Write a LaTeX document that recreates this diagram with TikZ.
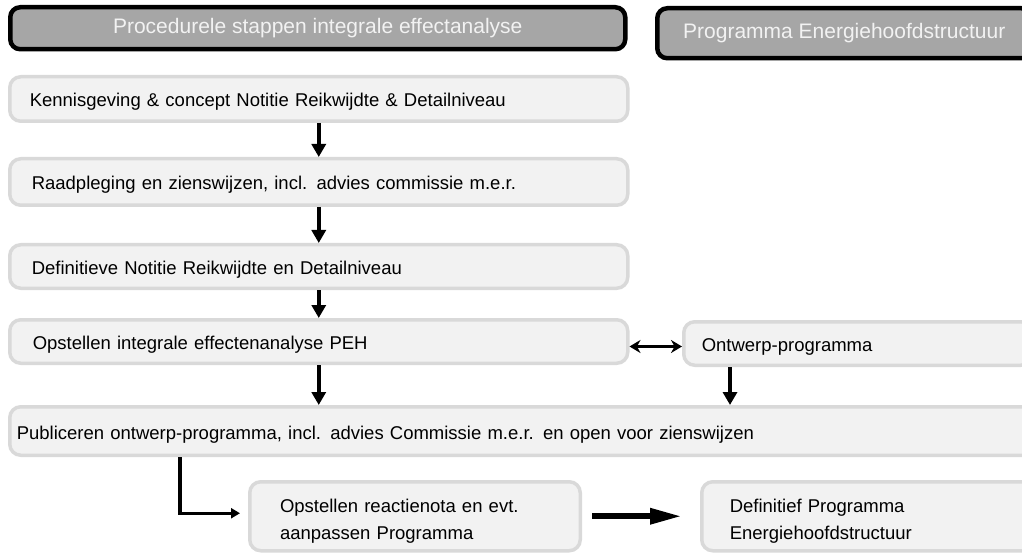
\documentclass[tikz,border=0pt]{standalone}
\usepackage{fontspec}
\setmainfont{Liberation Sans}
\usetikzlibrary{arrows.meta}

\definecolor{headgray}{HTML}{A6A6A6}
\definecolor{headtext}{HTML}{F2F2F2}
\definecolor{stepfill}{HTML}{F2F2F2}
\definecolor{stepline}{HTML}{D9D9D9}

\tikzstyle{header} = [rectangle, rounded corners=10pt, draw=black, line width=4.5pt, fill=headgray, text=headtext, font=\fontsize{21}{25}\selectfont, anchor=north west]
\tikzstyle{stepbox} = [rectangle, rounded corners=11pt, draw=stepline, line width=3.5pt, fill=stepfill, text=black, font=\fontsize{18.5}{27.5}\selectfont, align=left, anchor=north west, inner ysep=0pt]
\tikzstyle{oneline} = [text height=16pt, text depth=0pt]
\tikzstyle{twolines} = [text depth=21pt]
\tikzstyle{arrow} = [line width=4.5pt, -{Triangle[length=13pt,width=14pt]}]
\tikzstyle{twoway} = [line width=3.5pt, {Stealth[length=11pt,width=13pt]}-{Stealth[length=11pt,width=13pt]}]
\tikzstyle{elbow} = [line width=3.5pt, -{Triangle[length=9pt,width=10pt]}]
\tikzstyle{bigarrow} = [line width=6pt, -{Triangle[length=32pt,width=15pt]}]

\begin{document}
\begin{tikzpicture}[x=1pt, y=-1pt]
  \useasboundingbox (0,0) rectangle (1022,553);
  \clip (0,0) rectangle (1022,553);

  \node (Procedure) [header, minimum width=615pt, minimum height=42pt] at (8,5) {Procedurele stappen integrale effectanalyse};
  \node (Programma) [header, minimum width=374pt, minimum height=50pt] at (655,6) {Programma Energiehoofdstructuur};

  \node (Kennisgeving) [stepbox, oneline, inner xsep=20pt, text width=578pt, minimum width=618pt, minimum height=44.5pt] at (8,75) {Kennisgeving \& concept Notitie Reikwijdte \& Detailniveau};
  \node (Raadpleging) [stepbox, oneline, inner xsep=22pt, text width=574pt, minimum width=618pt, minimum height=46.5pt] at (8,157) {Raadpleging en zienswijzen, incl. advies commissie m.e.r.};
  \node (Definitieve) [stepbox, oneline, inner xsep=22pt, text width=574pt, minimum width=618pt, minimum height=43.5pt] at (8,243) {Definitieve Notitie Reikwijdte en Detailniveau};
  \node (Opstellen) [stepbox, oneline, inner xsep=23pt, text width=572pt, minimum width=618pt, minimum height=43.5pt] at (8,318) {Opstellen integrale effectenanalyse PEH};
  \node (Ontwerp) [stepbox, oneline, inner xsep=18pt, text width=312pt, minimum width=348pt, minimum height=43.5pt] at (682,320) {Ontwerp-programma};
  \node (Publiceren) [stepbox, oneline, inner xsep=7pt, text width=1010pt, minimum width=1024pt, minimum height=48.5pt] at (8,405) {Publiceren ontwerp-programma, incl. advies Commissie m.e.r. en open voor zienswijzen};
  \node (Reactienota) [stepbox, twolines, inner xsep=30pt, text width=270pt, minimum width=330.5pt, minimum height=69pt] at (248,480) {Opstellen reactienota en evt.\\aanpassen Programma};
  \node (Definitief) [stepbox, twolines, inner xsep=28pt, text width=284pt, minimum width=340pt, minimum height=69pt] at (700,480) {Definitief Programma\\Energiehoofdstructuur};

  \draw [arrow] (Kennisgeving) -- (Raadpleging);
  \draw [arrow] (Raadpleging) -- (Definitieve);
  \draw [arrow] (Definitieve) -- (Opstellen);
  \draw [twoway] ([yshift=-5pt]Opstellen.east) -- ([yshift=-5pt]Opstellen.east -| Ontwerp.west);
  \draw [arrow] (Opstellen.south) -- (Opstellen.south |- Publiceren.north);
  \draw [arrow] ([xshift=48pt]Ontwerp.south west) -- ([xshift=48pt]Ontwerp.south west |- Publiceren.north);
  \draw [elbow] ([xshift=172pt]Publiceren.south west) |- ([xshift=-8pt, yshift=3pt]Reactienota.west);
  \draw [bigarrow, shorten <=10pt, shorten >=18pt] (Reactienota.east) -- (Definitief.west);
\end{tikzpicture}
\end{document}
